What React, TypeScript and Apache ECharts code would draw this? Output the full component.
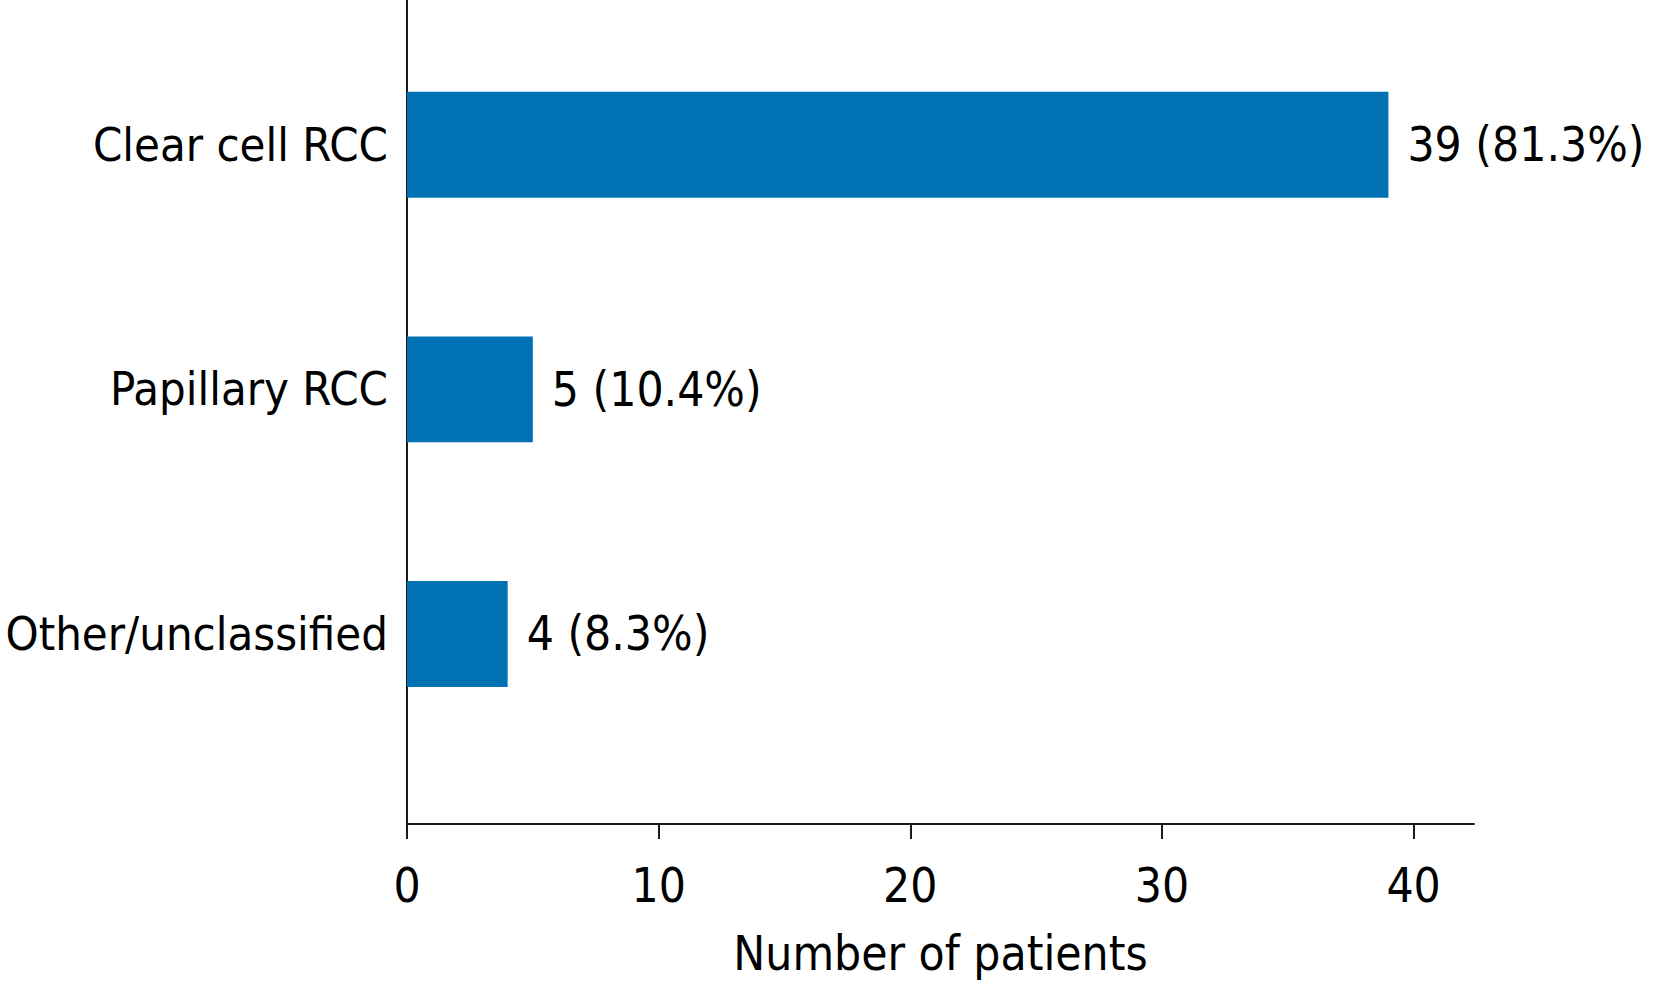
import React, { useEffect, useRef } from "react";
import * as echarts from "echarts";

const categories = ["Clear cell RCC", "Papillary RCC", "Other/unclassified"];
const counts = [39, 5, 4];
const percents = [81.3, 10.4, 8.3];
const positions = [3, 2, 1];
const xTicks = [0, 10, 20, 30, 40];

const FONT = "'DejaVu Sans Condensed', 'DejaVu Sans', sans-serif";
const FS = 47.5;
const FS_Y = 46.8;
const BAR_COLOR = "#0071B3";
const AXIS_COLOR = "#1a1a1a";

export default function App() {
  const ref = useRef<HTMLDivElement>(null);
  useEffect(() => {
    if (!ref.current) return;
    const chart = echarts.init(ref.current, undefined, { renderer: "svg" });
    const data = counts.map((c, i) => [c, positions[i], percents[i]]);
    chart.setOption({
      animation: false,
      backgroundColor: "#ffffff",
      textStyle: { fontFamily: FONT },
      grid: {
        left: 407,
        right: 180,
        top: 0,
        bottom: 173,
        containLabel: false,
        outerBoundsMode: "none",
      },
      xAxis: {
        type: "value",
        min: 0,
        max: 42.4,
        interval: 10,
        name: "Number of patients",
        nameLocation: "middle",
        nameGap: 105,
        nameTextStyle: { fontSize: FS, color: "#000", fontFamily: FONT },
        axisLine: { show: true, lineStyle: { color: AXIS_COLOR, width: 2 } },
        axisTick: {
          show: true,
          inside: false,
          length: 15,
          customValues: xTicks,
          lineStyle: { color: AXIS_COLOR, width: 2 },
        },
        axisLabel: {
          customValues: xTicks,
          fontSize: FS,
          color: "#000",
          margin: 37,
          fontFamily: FONT,
        },
        splitLine: { show: false },
      },
      yAxis: {
        type: "value",
        min: 0.223,
        max: 3.592,
        axisLine: { show: true, onZero: false, lineStyle: { color: AXIS_COLOR, width: 2 } },
        axisTick: { show: false },
        axisLabel: {
          customValues: positions,
          fontSize: FS_Y,
          color: "#000",
          margin: 19,
          fontFamily: FONT,
          formatter: (v: number) => {
            const idx = positions.indexOf(Math.round(v));
            return idx >= 0 ? categories[idx] : "";
          },
        },
        splitLine: { show: false },
      },
      series: [
        {
          type: "custom",
          data,
          encode: { x: 0, y: 1 },
          renderItem: (params: any, api: any) => {
            const v = api.value(0);
            const p = api.value(1);
            const pct = api.value(2);
            const start = api.coord([0, p]);
            const end = api.coord([v, p]);
            const h = api.size([0, 0.433])[1];
            return {
              type: "group",
              children: [
                {
                  type: "rect",
                  shape: { x: start[0], y: start[1] - h / 2, width: end[0] - start[0], height: h },
                  style: { fill: BAR_COLOR },
                },
                {
                  type: "text",
                  x: end[0] + 19,
                  y: end[1],
                  style: {
                    text: `${v} (${Number(pct).toFixed(1)}%)`,
                    fontSize: FS,
                    fontFamily: FONT,
                    fill: "#000",
                    align: "left",
                    verticalAlign: "middle",
                  },
                },
              ],
            };
          },
        },
      ],
    });
    return () => chart.dispose();
  }, []);
  return (
    <div
      ref={ref}
      style={{ position: "fixed", left: 0, top: 0, width: 1654, height: 997, background: "#fff" }}
    />
  );
}
